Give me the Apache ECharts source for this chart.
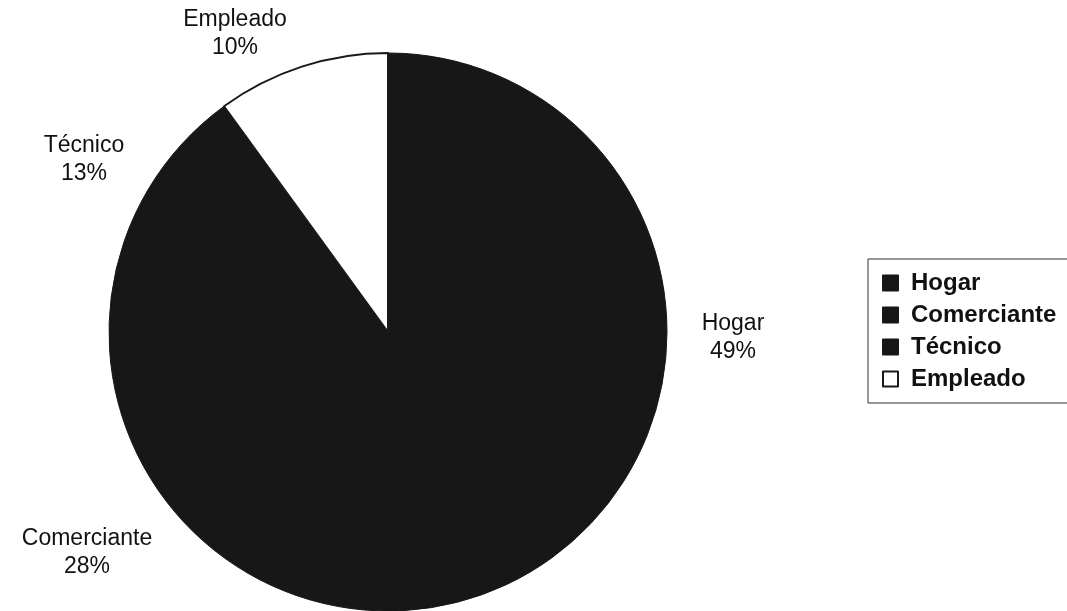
<!doctype html>
<html>
<head>
<meta charset="utf-8">
<title>Ocupación</title>
<script src="https://cdn.jsdelivr.net/npm/echarts@6/dist/echarts.min.js"></script>
<style>html,body{margin:0;background:#fff;}#main{width:1067px;height:611px;}</style>
</head>
<body>
<div id="main"></div>
<script>
var categories = ['Hogar', 'Comerciante', 'Técnico', 'Empleado'];
var values = [49, 28, 13, 10];

// where each slice label sits (centre of the two-line block)
var labelSpots = [[733, 338], [87, 553], [84, 160], [235, 34]];
var fills = ['#171717', '#171717', '#171717', '#ffffff'];

var chart = echarts.init(document.getElementById('main'));

var pieData = [];
for (var i = 0; i < categories.length; i++) {
  pieData.push({
    name: categories[i],
    value: values[i],
    itemStyle: {
      color: fills[i],
      borderColor: i == 3 ? '#1a1a1a' : fills[i],
      borderWidth: i == 3 ? 2 : 1
    }
  });
}

chart.setOption({
  animation: false,
  legend: {
    orient: 'vertical',
    left: 868,
    top: 259,
    padding: [12, 14, 12, 14],
    borderColor: '#333',
    borderWidth: 1,
    itemWidth: 15,
    itemHeight: 15,
    itemGap: 8,
    icon: 'rect',
    textStyle: {
      fontFamily: 'Liberation Sans, Arial',
      fontSize: 24,
      fontWeight: 'bold',
      color: '#111',
      padding: [0, 0, 0, 8]
    },
    data: categories
  },
  series: [{
    type: 'pie',
    center: [388, 332],
    radius: 279,
    startAngle: 90,
    clockwise: true,
    silent: true,
    label: {
      show: true,
      position: 'outside',
      formatter: '{b}\n{d}%',
      fontFamily: 'Liberation Sans, Arial',
      fontSize: 23,
      lineHeight: 28,
      color: '#111',
      align: 'center',
      overflow: 'none',
      width: 200
    },
    labelLine: {show: false},
    labelLayout: function (params) {
      var p = labelSpots[params.dataIndex];
      return {x: p[0], y: p[1], align: 'center', verticalAlign: 'middle'};
    },
    data: pieData
  }]
});
</script>
</body>
</html>
